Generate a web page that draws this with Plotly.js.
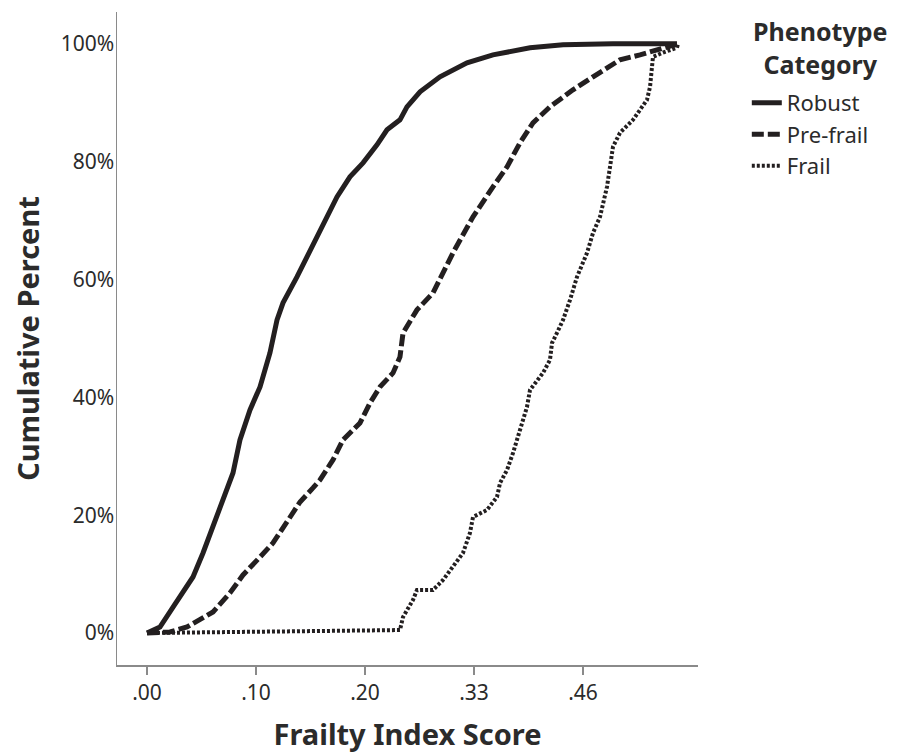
<!DOCTYPE html>
<html>
<head>
<meta charset="utf-8">
<script src="https://cdn.plot.ly/plotly-3.0.1.min.js"></script>
<style>html,body{margin:0;padding:0;background:#fff;}#chart{width:908px;height:755px;}</style>
</head>
<body>
<div id="chart"></div>
<script>
// Categories
const categories = ["Robust", "Pre-frail", "Frail"];
const legendTitle = "Phenotype<br>Category";

// Axis ticks (labels as printed in the reference)
const xTickVals = [0, 0.1, 0.2, 0.3, 0.4];
const xTickText = [".00", ".10", ".20", ".33", ".46"];
const yTickVals = [0, 20, 40, 60, 80, 100];
const yTickText = ["0%", "20%", "40%", "60%", "80%", "100%"];

// Robust
const robustX = [0, 0.0119, 0.0239, 0.0330, 0.0422, 0.0514, 0.0606, 0.0697, 0.0789, 0.0853, 0.0945, 0.1037, 0.1128, 0.1193, 0.1248, 0.1376, 0.1468, 0.1560, 0.1651, 0.1743, 0.1862, 0.1982, 0.2110, 0.2202, 0.2321, 0.2385, 0.2505, 0.2688, 0.2936, 0.3174, 0.3514, 0.3817, 0.4275, 0.4862];
const robustY = [0, 1.02, 4.41, 6.79, 9.51, 13.58, 18.00, 22.58, 27.16, 32.77, 37.86, 41.77, 47.54, 53.14, 56.03, 60.44, 63.84, 67.23, 70.97, 74.02, 77.42, 79.80, 82.85, 85.40, 87.10, 89.30, 91.85, 94.40, 96.77, 98.13, 99.32, 99.83, 100, 100];

// Pre-frail
const prefrailX = [0, 0.0211, 0.0367, 0.0486, 0.0606, 0.0761, 0.0881, 0.1037, 0.1156, 0.1284, 0.1404, 0.1523, 0.1587, 0.1706, 0.1798, 0.1954, 0.2046, 0.2138, 0.2257, 0.2321, 0.2349, 0.2477, 0.2624, 0.2807, 0.2991, 0.3174, 0.3303, 0.3422, 0.3541, 0.3697, 0.3908, 0.4092, 0.4248, 0.4339, 0.4523, 0.4771, 0.4872];
const prefrailY = [0, 0.17, 1.02, 2.21, 3.57, 6.79, 9.85, 12.90, 15.28, 18.85, 22.24, 24.62, 25.98, 29.37, 32.77, 35.65, 39.05, 41.77, 44.14, 46.86, 50.93, 54.84, 57.72, 64.52, 70.63, 75.72, 79.12, 83.19, 86.59, 89.30, 92.19, 94.40, 96.10, 97.28, 98.13, 99.49, 100];

// Frail
const frailX = [0, 0.2229, 0.2321, 0.2349, 0.2440, 0.2477, 0.2624, 0.2716, 0.2807, 0.2899, 0.2963, 0.2991, 0.3119, 0.3211, 0.3239, 0.3303, 0.3358, 0.3394, 0.3450, 0.3486, 0.3514, 0.3633, 0.3697, 0.3716, 0.3761, 0.3817, 0.3881, 0.3945, 0.4037, 0.4092, 0.4156, 0.4220, 0.4248, 0.4275, 0.4339, 0.4459, 0.4523, 0.4587, 0.4615, 0.4633, 0.4642, 0.4752, 0.4862, 0.4872];
const frailY = [0, 0.34, 0.5, 2.72, 5.60, 7.30, 7.30, 9.00, 11.21, 13.58, 16.98, 19.69, 20.88, 23.09, 25.47, 27.67, 30.56, 32.77, 35.65, 38.37, 41.26, 44.14, 46.35, 49.24, 50.93, 53.14, 56.54, 60.44, 64.52, 67.91, 70.63, 75.72, 79.12, 82.51, 84.89, 87.10, 88.79, 90.49, 92.70, 96.10, 97.79, 98.64, 99.32, 100];

const lineColor = "#231f20";
const textColor = "#2b2b2b";
const fontFam = "'Noto Sans', 'Open Sans', sans-serif";

const traces = [
  {x: robustX, y: robustY, name: categories[0], mode: "lines", type: "scatter",
   line: {color: lineColor, width: 5, dash: "solid"}},
  {x: prefrailX, y: prefrailY, name: categories[1], mode: "lines", type: "scatter",
   line: {color: lineColor, width: 5, dash: "12px,4px"}},
  {x: frailX, y: frailY, name: categories[2], mode: "lines", type: "scatter",
   line: {color: lineColor, width: 4, dash: "3px,2px"}}
];

const layout = {
  width: 908, height: 755,
  margin: {l: 117, r: 210, t: 12, b: 90, pad: 0},
  paper_bgcolor: "#fff", plot_bgcolor: "#fff",
  font: {family: fontFam, color: textColor, size: 21},
  showlegend: true,
  legend: {
    x: 1.084, xanchor: "left", y: 0.893, yanchor: "top",
    font: {family: fontFam, size: 22, color: textColor},
    tracegroupgap: 0, itemwidth: 30, bgcolor: "rgba(0,0,0,0)"
  },
  annotations: [{
    text: "<b>" + legendTitle + "</b>", xref: "paper", yref: "paper",
    x: 1.21, y: 1.0, xanchor: "center", yanchor: "top", align: "center",
    showarrow: false, font: {family: fontFam, size: 25, color: textColor}
  }],
  xaxis: {
    range: [-0.0275, 0.5055],
    tickmode: "array", tickvals: xTickVals, ticktext: xTickText,
    showgrid: false, zeroline: false,
    showline: true, linecolor: "#8a8a8a", linewidth: 1.5,
    ticks: "outside", ticklen: 8, tickwidth: 1.5, tickcolor: "#8a8a8a",
    tickfont: {family: fontFam, size: 21, color: textColor},
    title: {text: "<b>Frailty Index Score</b>", font: {family: fontFam, size: 29, color: textColor}, standoff: 20}
  },
  yaxis: {
    range: [-5.43, 105.4],
    tickmode: "array", tickvals: yTickVals, ticktext: yTickText,
    showgrid: false, zeroline: false,
    showline: true, linecolor: "#8a8a8a", linewidth: 1.5,
    ticks: "", ticklen: 0, ticklabelstandoff: -3,
    tickfont: {family: fontFam, size: 21, color: textColor},
    title: {text: "<b>Cumulative Percent</b>", font: {family: fontFam, size: 29, color: textColor}, standoff: 12}
  }
};

Plotly.newPlot("chart", traces, layout, {staticPlot: true, displayModeBar: false});
</script>
</body>
</html>
